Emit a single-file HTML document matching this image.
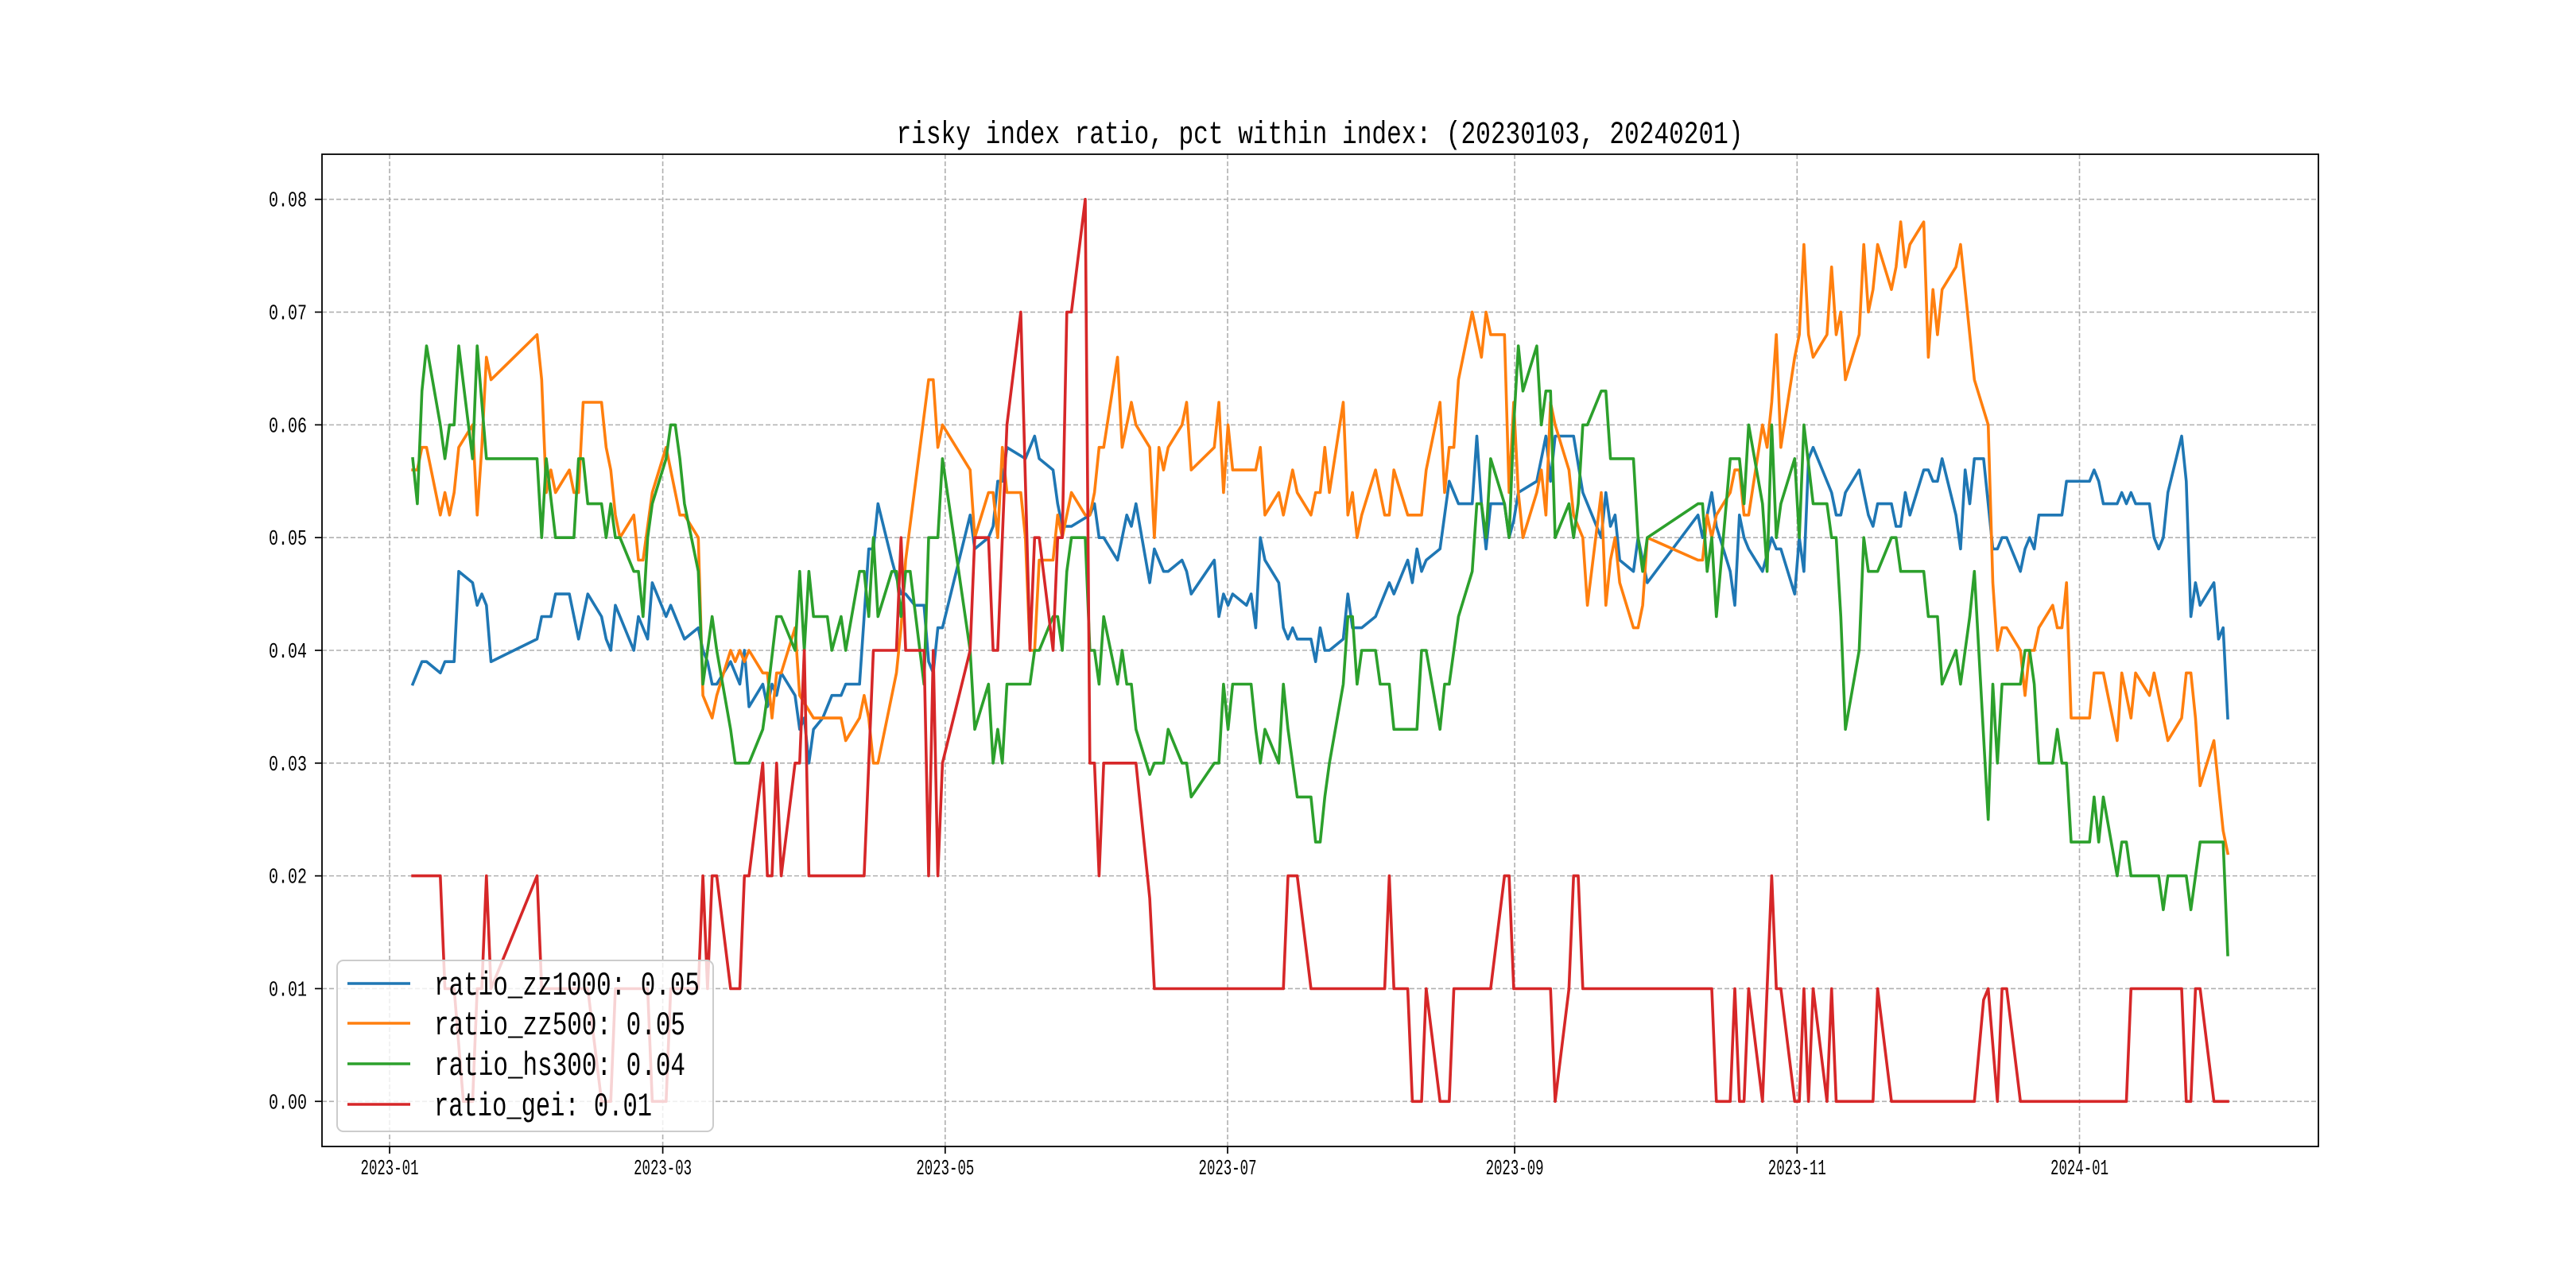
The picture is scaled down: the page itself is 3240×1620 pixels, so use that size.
<!DOCTYPE html>
<html><head><meta charset="utf-8"><title>risky index ratio</title>
<style>html,body{margin:0;padding:0;background:#fff}svg{display:block}text{font-family:"WenQuanYi Zen Hei Mono","WenQuanYi Zen Hei","Liberation Mono","Noto Sans CJK SC",monospace}</style>
</head><body>
<svg id="chart" xmlns="http://www.w3.org/2000/svg" width="3240" height="1620" viewBox="0 0 3240 1620">
<rect x="0" y="0" width="3240" height="1620" fill="#fff"/>
<text x="1660" y="180" text-anchor="middle" font-size="40" textLength="1065" lengthAdjust="spacingAndGlyphs">risky index ratio, pct within index: (20230103, 20240201)</text>
<g id="grid"></g>
<g id="series"></g>
<g id="legend"></g>
<g id="axes"></g>
</svg>
<script>
// tick days: days since 2023-01-01
const xTickDays = [0, 59, 120, 181, 243, 304, 365];
const xTickLabels = ["2023-01","2023-03","2023-05","2023-07","2023-09","2023-11","2024-01"];
const yTickValues = [0, 0.01, 0.02, 0.03, 0.04, 0.05, 0.06, 0.07, 0.08];
const yTickLabels = ["0.00","0.01","0.02","0.03","0.04","0.05","0.06","0.07","0.08"];
const seriesNames = ["ratio_zz1000","ratio_zz500","ratio_hs300","ratio_gei"];
const legendValues = ["0.05","0.05","0.04","0.01"];
// series: [trading-day position, value in percent]
const zz1000Pct = [[2,3.7],[4,3.9],[5,3.9],[8,3.8],[9,3.9],[11,3.9],[12,4.7],[15,4.6],[16,4.4],[17,4.5],[18,4.4],[19,3.9],[29,4.1],[30,4.3],[32,4.3],[33,4.5],[36,4.5],[38,4.1],[40,4.5],[43,4.3],[44,4.1],[45,4.0],[46,4.4],[50,4.0],[51,4.3],[53,4.1],[54,4.6],[57,4.3],[58,4.4],[61,4.1],[64,4.2],[65,4.0],[66,3.9],[67,3.7],[68,3.7],[71,3.9],[73,3.7],[74,4.0],[75,3.5],[78,3.7],[79,3.5],[80,3.7],[81,3.6],[82,3.8],[85,3.6],[86,3.3],[87,3.4],[88,3.0],[89,3.3],[91,3.4],[93,3.6],[95,3.6],[96,3.7],[99,3.7],[101,4.9],[102,4.9],[103,5.3],[106,4.8],[108,4.5],[109,4.5],[111,4.4],[113,4.4],[114,3.9],[115,3.8],[116,4.2],[117,4.2],[123,5.2],[124,4.9],[127,5.0],[128,5.1],[129,5.5],[130,5.5],[131,5.8],[135,5.7],[137,5.9],[138,5.7],[141,5.6],[142,5.3],[143,5.1],[145,5.1],[149,5.2],[150,5.3],[151,5.0],[152,5.0],[155,4.8],[157,5.2],[158,5.1],[159,5.3],[162,4.6],[163,4.9],[165,4.7],[166,4.7],[169,4.8],[170,4.7],[171,4.5],[176,4.8],[177,4.3],[178,4.5],[179,4.4],[180,4.5],[183,4.4],[184,4.5],[185,4.2],[186,5.0],[187,4.8],[190,4.6],[191,4.2],[192,4.1],[193,4.2],[194,4.1],[197,4.1],[198,3.9],[199,4.2],[200,4.0],[201,4.0],[204,4.1],[205,4.5],[206,4.2],[208,4.2],[211,4.3],[214,4.6],[215,4.5],[218,4.8],[219,4.6],[220,4.9],[221,4.7],[222,4.8],[225,4.9],[227,5.5],[229,5.3],[232,5.3],[233,5.9],[234,5.3],[235,4.9],[236,5.3],[239,5.3],[240,5.0],[241,5.15],[242,5.4],[246,5.5],[248,5.9],[249,5.5],[250,5.9],[254,5.9],[256,5.4],[260,5.0],[261,5.4],[262,5.1],[263,5.2],[264,4.8],[267,4.7],[268,5.0],[270,4.6],[281,5.2],[282,5.0],[284,5.4],[285,5.1],[288,4.7],[289,4.4],[290,5.2],[291,5.0],[292,4.9],[295,4.7],[297,5.0],[298,4.9],[299,4.9],[302,4.5],[303,5.0],[304,4.7],[305,5.7],[306,5.8],[310,5.4],[311,5.2],[312,5.2],[313,5.4],[316,5.6],[318,5.2],[319,5.1],[320,5.3],[323,5.3],[324,5.1],[325,5.1],[326,5.4],[327,5.2],[330,5.6],[331,5.6],[332,5.5],[333,5.5],[334,5.7],[337,5.2],[338,4.9],[339,5.6],[340,5.3],[341,5.7],[343,5.7],[345,4.9],[346,4.9],[347,5.0],[348,5.0],[351,4.7],[352,4.9],[353,5.0],[354,4.9],[355,5.2],[360,5.2],[361,5.5],[366,5.5],[367,5.6],[368,5.5],[369,5.3],[372,5.3],[373,5.4],[374,5.3],[375,5.4],[376,5.3],[379,5.3],[380,5.0],[381,4.9],[382,5.0],[383,5.4],[386,5.9],[387,5.5],[388,4.3],[389,4.6],[390,4.4],[393,4.6],[394,4.1],[395,4.2],[396,3.4]];
const zz500Pct = [[2,5.6],[3,5.6],[4,5.8],[5,5.8],[8,5.2],[9,5.4],[10,5.2],[11,5.4],[12,5.8],[15,6.0],[16,5.2],[17,5.8],[18,6.6],[19,6.4],[29,6.8],[30,6.4],[31,5.4],[32,5.6],[33,5.4],[36,5.6],[37,5.4],[38,5.4],[39,6.2],[43,6.2],[44,5.8],[45,5.6],[46,5.2],[47,5.0],[50,5.2],[51,4.8],[52,4.8],[54,5.4],[57,5.8],[60,5.2],[61,5.2],[64,5.0],[65,3.6],[67,3.4],[68,3.6],[71,4.0],[72,3.9],[73,4.0],[74,3.9],[75,4.0],[78,3.8],[79,3.8],[80,3.4],[81,3.8],[82,3.8],[85,4.2],[86,3.6],[89,3.4],[95,3.4],[96,3.2],[99,3.4],[100,3.6],[101,3.4],[102,3.0],[103,3.0],[107,3.8],[108,4.2],[109,4.8],[114,6.4],[115,6.4],[116,5.8],[117,6.0],[123,5.6],[124,5.0],[127,5.4],[128,5.4],[129,5.0],[130,5.8],[131,5.4],[134,5.4],[135,5.0],[136,4.0],[137,4.0],[138,4.8],[141,4.8],[142,5.2],[143,5.0],[144,5.2],[145,5.4],[148,5.2],[149,5.2],[150,5.4],[151,5.8],[152,5.8],[155,6.6],[156,5.8],[158,6.2],[159,6.0],[162,5.8],[163,5.0],[164,5.8],[165,5.6],[166,5.8],[169,6.0],[170,6.2],[171,5.6],[176,5.8],[177,6.2],[178,5.4],[179,6.0],[180,5.6],[185,5.6],[186,5.8],[187,5.2],[190,5.4],[191,5.2],[193,5.6],[194,5.4],[197,5.2],[198,5.4],[199,5.4],[200,5.8],[201,5.4],[204,6.2],[205,5.2],[206,5.4],[207,5.0],[208,5.2],[211,5.6],[213,5.2],[214,5.2],[215,5.6],[218,5.2],[221,5.2],[222,5.6],[225,6.2],[226,5.4],[227,5.8],[228,5.8],[229,6.4],[232,7.0],[234,6.6],[235,7.0],[236,6.8],[239,6.8],[240,5.4],[241,6.2],[242,5.4],[243,5.0],[246,5.4],[247,5.6],[248,5.2],[249,6.2],[250,6.0],[253,5.6],[254,5.2],[256,5.0],[257,4.4],[260,5.4],[261,4.4],[262,4.8],[263,5.0],[264,4.6],[267,4.2],[268,4.2],[269,4.4],[270,5.0],[281,4.8],[282,4.8],[283,5.2],[284,5.0],[285,5.2],[288,5.4],[289,5.6],[290,5.6],[291,5.2],[292,5.2],[295,6.0],[296,5.8],[297,6.2],[298,6.8],[299,5.8],[302,6.6],[303,6.8],[304,7.6],[305,6.8],[306,6.6],[309,6.8],[310,7.4],[311,6.8],[312,7.0],[313,6.4],[316,6.8],[317,7.6],[318,7.0],[319,7.2],[320,7.6],[323,7.2],[324,7.4],[325,7.8],[326,7.4],[327,7.6],[330,7.8],[331,6.6],[332,7.2],[333,6.8],[334,7.2],[337,7.4],[338,7.6],[341,6.4],[344,6.0],[345,4.6],[346,4.0],[347,4.2],[348,4.2],[351,4.0],[352,3.6],[353,4.0],[354,4.0],[355,4.2],[358,4.4],[359,4.2],[360,4.2],[361,4.6],[362,3.4],[366,3.4],[367,3.8],[369,3.8],[372,3.2],[373,3.8],[375,3.4],[376,3.8],[379,3.6],[380,3.8],[383,3.2],[386,3.4],[387,3.8],[388,3.8],[389,3.4],[390,2.8],[393,3.2],[395,2.4],[396,2.2]];
const hs300Pct = [[2,5.7],[3,5.3],[4,6.3],[5,6.7],[8,6.0],[9,5.7],[10,6.0],[11,6.0],[12,6.7],[15,5.7],[16,6.7],[18,5.7],[29,5.7],[30,5.0],[31,5.7],[33,5.0],[37,5.0],[38,5.7],[39,5.7],[40,5.3],[43,5.3],[44,5.0],[45,5.3],[46,5.0],[47,5.0],[50,4.7],[51,4.7],[52,4.3],[53,5.0],[54,5.3],[57,5.7],[58,6.0],[59,6.0],[60,5.7],[61,5.3],[64,4.7],[65,3.7],[67,4.3],[68,4.0],[71,3.3],[72,3.0],[75,3.0],[78,3.3],[79,3.6],[81,4.3],[82,4.3],[85,4.0],[86,4.7],[87,4.0],[88,4.7],[89,4.3],[92,4.3],[93,4.0],[95,4.3],[96,4.0],[99,4.7],[100,4.7],[101,4.3],[102,5.0],[103,4.3],[106,4.7],[107,4.7],[108,4.3],[109,4.7],[110,4.7],[113,3.7],[114,5.0],[116,5.0],[117,5.7],[123,4.0],[124,3.3],[127,3.7],[128,3.0],[129,3.3],[130,3.0],[131,3.7],[136,3.7],[137,4.0],[138,4.0],[141,4.3],[142,4.3],[143,4.0],[144,4.7],[145,5.0],[148,5.0],[149,4.0],[150,4.0],[151,3.7],[152,4.3],[155,3.7],[156,4.0],[157,3.7],[158,3.7],[159,3.3],[162,2.9],[163,3.0],[165,3.0],[166,3.3],[169,3.0],[170,3.0],[171,2.7],[176,3.0],[177,3.0],[178,3.7],[179,3.3],[180,3.7],[184,3.7],[185,3.3],[186,3.0],[187,3.3],[190,3.0],[191,3.7],[192,3.3],[194,2.7],[197,2.7],[198,2.3],[199,2.3],[200,2.7],[201,3.0],[204,3.7],[205,4.3],[206,4.3],[207,3.7],[208,4.0],[211,4.0],[212,3.7],[214,3.7],[215,3.3],[220,3.3],[221,4.0],[222,4.0],[225,3.3],[226,3.7],[227,3.7],[229,4.3],[232,4.7],[233,5.3],[234,5.3],[235,5.0],[236,5.7],[239,5.3],[240,5.0],[241,6.0],[242,6.7],[243,6.3],[246,6.7],[247,6.0],[248,6.3],[249,6.3],[250,5.0],[253,5.3],[254,5.0],[255,5.3],[256,6.0],[257,6.0],[260,6.3],[261,6.3],[262,5.7],[267,5.7],[268,5.0],[269,4.7],[270,5.0],[281,5.3],[282,5.3],[283,4.7],[284,5.0],[285,4.3],[288,5.7],[290,5.7],[291,5.3],[292,6.0],[295,5.3],[296,4.7],[297,6.0],[298,5.0],[299,5.3],[302,5.7],[303,5.0],[304,6.0],[306,5.3],[309,5.3],[310,5.0],[311,5.0],[312,4.3],[313,3.3],[316,4.0],[317,5.0],[318,4.7],[320,4.7],[323,5.0],[324,5.0],[325,4.7],[330,4.7],[331,4.3],[333,4.3],[334,3.7],[337,4.0],[338,3.7],[340,4.3],[341,4.7],[344,2.5],[345,3.7],[346,3.0],[347,3.7],[351,3.7],[352,4.0],[353,4.0],[354,3.7],[355,3.0],[358,3.0],[359,3.3],[360,3.0],[361,3.0],[362,2.3],[366,2.3],[367,2.7],[368,2.3],[369,2.7],[372,2.0],[373,2.3],[374,2.3],[375,2.0],[381,2.0],[382,1.7],[383,2.0],[387,2.0],[388,1.7],[390,2.3],[395,2.3],[396,1.3]];
const geiPct = [[2,2],[8,2],[9,1],[11,1],[13,0],[15,0],[16,1],[17,1],[18,2],[19,1],[29,2],[30,1],[40,1],[43,0],[45,0],[46,1],[53,1],[54,0],[57,0],[58,1],[64,1],[65,2],[66,1],[67,2],[68,2],[71,1],[73,1],[74,2],[75,2],[78,3],[79,2],[80,2],[81,3],[82,2],[85,3],[86,3],[87,4],[88,2],[89,2],[100,2],[101,3],[102,4],[107,4],[108,5],[109,4],[113,4],[114,2],[115,4],[116,2],[117,3],[123,4],[124,5],[127,5],[128,4],[129,4],[131,6],[134,7],[136,4],[137,5],[138,5],[141,4],[142,5],[143,5],[144,7],[145,7],[148,8],[149,3],[150,3],[151,2],[152,3],[159,3],[162,1.8],[163,1],[191,1],[192,2],[194,2],[197,1],[213,1],[214,2],[215,1],[218,1],[219,0],[221,0],[222,1],[225,0],[227,0],[228,1],[236,1],[239,2],[240,2],[241,1],[249,1],[250,0],[253,1],[254,2],[255,2],[256,1],[284,1],[285,0],[288,0],[289,1],[290,0],[291,0],[292,1],[295,0],[297,2],[298,1],[299,1],[302,0],[303,0],[304,1],[305,0],[306,1],[309,0],[310,1],[311,0],[319,0],[320,1],[323,0],[341,0],[343,0.9],[344,1],[346,0],[347,1],[348,1],[351,0],[374,0],[375,1],[386,1],[387,0],[388,0],[389,1],[390,1],[393,0],[396,0]];
const seriesColors = ["#1f77b4","#ff7f0e","#2ca02c","#d62728"];

const NS = "http://www.w3.org/2000/svg";
const AX = {l:405, r:2916, t:194, b:1442};
const X0 = -14.6, X1 = 416.6, Y0 = -0.004, Y1 = 0.084;
function xs(d){ return AX.l + (d - X0) / (X1 - X0) * (AX.r - AX.l); }
function ys(v){ return AX.b - (v - Y0) / (Y1 - Y0) * (AX.b - AX.t); }
// calibration of series day positions to calendar days
function calDay(d){ return d * 0.995 + 3; }
function mk(tag, attrs, parent){ const e = document.createElementNS(NS, tag); for (const k in attrs) e.setAttribute(k, attrs[k]); parent.appendChild(e); return e; }

const grid = document.getElementById('grid');
const axes = document.getElementById('axes');
xTickDays.forEach((d, i) => {
  const x = xs(d);
  const g = mk('line', {x1:x, x2:x, y1:AX.t, y2:AX.b, stroke:'#b0b0b0', 'stroke-width':1.6, 'stroke-dasharray':'6,3'}, grid);
  
  
  const t = mk('line', {x1:x, x2:x, y1:AX.b, y2:AX.b + 9, stroke:'#000', 'stroke-width':1.7}, axes);
  
  
  const lb = mk('text', {x:x, y:AX.b + 35, 'text-anchor':'middle', 'font-size':27, textLength:73, lengthAdjust:'spacingAndGlyphs'}, axes);
  lb.textContent = xTickLabels[i];
  
  
});
yTickValues.forEach((v, i) => {
  const y = ys(v);
  const g = mk('line', {x1:AX.l, x2:AX.r, y1:y, y2:y, stroke:'#b0b0b0', 'stroke-width':1.6, 'stroke-dasharray':'6,3'}, grid);
  
  
  const t = mk('line', {x1:AX.l - 9, x2:AX.l, y1:y, y2:y, stroke:'#000', 'stroke-width':1.7}, axes);
  
  
  const lb = mk('text', {x:386, y:y + 9, 'text-anchor':'end', 'font-size':27, textLength:48, lengthAdjust:'spacingAndGlyphs'}, axes);
  lb.textContent = yTickLabels[i];
  
  
});
const frame = mk('rect', {x:AX.l, y:AX.t, width:AX.r - AX.l, height:AX.b - AX.t, fill:'none', stroke:'#000', 'stroke-width':1.8}, axes);



const seriesG = document.getElementById('series');
const allSeries = [zz1000Pct, zz500Pct, hs300Pct, geiPct];
allSeries.forEach((data, i) => {
  const pts = data.map(p => xs(calDay(p[0])).toFixed(1) + ',' + ys(p[1] / 100).toFixed(1)).join(' ');
  const pl = mk('polyline', {points:pts, fill:'none', stroke:seriesColors[i], 'stroke-width':3.6, 'stroke-linejoin':'round', 'stroke-linecap':'square'}, seriesG);
  
  
});

const lg = document.getElementById('legend');
const box = mk('rect', {x:424, y:1208, width:473, height:215, rx:8, fill:'#fff', 'fill-opacity':0.8, stroke:'#cccccc', 'stroke-width':2}, lg);


const rowY = [1237, 1287, 1338, 1389];
const txtW = [334, 316, 316, 274];
seriesNames.forEach((n, i) => {
  const ln = mk('line', {x1:437, x2:516, y1:rowY[i], y2:rowY[i], stroke:seriesColors[i], 'stroke-width':3.6}, lg);
  
  
  const t = mk('text', {x:546, y:rowY[i] + 14, 'font-size':42, textLength:txtW[i], lengthAdjust:'spacingAndGlyphs'}, lg);
  t.textContent = n + ': ' + legendValues[i];
  
  
});
</script>
</body></html>
